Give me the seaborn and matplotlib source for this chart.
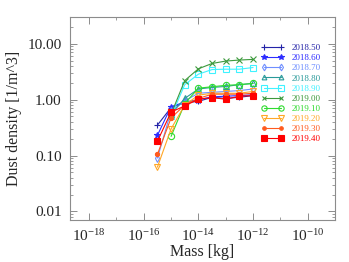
import matplotlib
matplotlib.use("Agg")
from matplotlib import pyplot as plt
import matplotlib.ticker as mticker
import numpy as np
import pandas as pd
import seaborn as sns

# data
mass = [10**-15.5, 1e-15, 10**-14.5, 1e-14, 10**-13.5, 1e-13, 10**-12.5, 1e-12]
epochs = ['2018.50', '2018.60', '2018.70', '2018.80', '2018.90',
          '2019.00', '2019.10', '2019.20', '2019.30', '2019.40']
d_2018_50 = [0.35, 0.72, 0.88, 0.93, 1.10, 1.05, 1.10, 1.18]
d_2018_60 = [0.23, 0.75, 0.90, 1.00, 1.12, 1.15, 1.18, 1.22]
d_2018_70 = [0.09, 0.62, 0.95, 1.30, 1.35, 1.40, 1.45, 1.55]
d_2018_80 = [np.nan, 0.55, 1.05, 1.55, 1.65, 1.72, 1.85, 1.95]
d_2018_90 = [np.nan, 0.50, 1.85, 2.85, 3.45, 3.50, 3.50, 3.75]
d_2019_00 = [np.nan, 0.55, 2.19, 3.56, 4.43, 4.89, 5.10, 5.24]
d_2019_10 = [np.nan, 0.22, 0.85, 1.60, 1.70, 1.80, 1.85, 1.95]
d_2019_20 = [0.062, 0.30, 0.80, 1.20, 1.30, 1.30, 1.30, 1.40]
d_2019_30 = [0.105, 0.47, 0.80, 1.05, 1.25, 1.25, 1.25, 1.30]
d_2019_40 = [0.18, 0.60, 0.77, 1.02, 1.08, 1.02, 1.15, 1.18]
density = [d_2018_50, d_2018_60, d_2018_70, d_2018_80, d_2018_90,
           d_2019_00, d_2019_10, d_2019_20, d_2019_30, d_2019_40]
xticks = [1e-18, 1e-16, 1e-14, 1e-12, 1e-10]
xminor = [1e-19, 1e-17, 1e-15, 1e-13, 1e-11]

colors = ['#2424a8', '#2d2dff', '#6f8fff', '#2a9a9a', '#3ff2ff',
          '#3d9a3d', '#2fdc2f', '#ffa726', '#ff5a1e', '#ff0000']
markers = ['+', '*', 'd', '^', 's', 'x', 'o', 'v', 'o', 's']
filled = [True, True, False, False, False, True, False, False, True, True]
msizes = [5, 4.5, 4, 4, 4.5, 4, 4.5, 4.5, 3, 4.5]

sns.set_style("ticks")
plt.rcParams['font.family'] = ['Liberation Serif', 'DejaVu Serif']
plt.rcParams['mathtext.fontset'] = 'stix'

fig = plt.figure(figsize=(3.49, 2.62), dpi=100)
ax = fig.add_axes([0.2006, 0.160, 0.7594, 0.775])

for ep, vals, c, m, f, ms in zip(epochs, density, colors, markers, filled, msizes):
    df = pd.DataFrame({'mass': mass, 'density': vals}).dropna()
    sns.lineplot(data=df, x='mass', y='density', ax=ax, color=c, marker=m,
                 markersize=ms, linewidth=0.8, label=ep,
                 markerfacecolor=c if f else 'none', markeredgecolor=c,
                 markeredgewidth=0.8)

ax.set_xscale('log')
ax.set_yscale('log')
ax.set_xlim(2e-19, 1e-9)
ax.set_ylim(0.007, 30)

ax.xaxis.set_major_locator(mticker.FixedLocator(xticks))
ax.xaxis.set_major_formatter(mticker.LogFormatterSciNotation())
ax.xaxis.set_minor_locator(mticker.FixedLocator(xminor))
ax.xaxis.set_minor_formatter(mticker.NullFormatter())
ax.yaxis.set_major_locator(mticker.LogLocator(base=10, numticks=10))
ax.yaxis.set_major_formatter(mticker.FormatStrFormatter('%.2f'))

for s in ax.spines.values():
    s.set_color('#8c8c8c')
    s.set_linewidth(0.8)
ax.tick_params(which='both', direction='in', top=True, right=True,
               color='#8c8c8c', labelsize=11, pad=6)
ax.tick_params(which='major', length=5, width=0.7)
ax.tick_params(which='minor', length=2.5, width=0.6)

ax.set_xlabel('Mass [kg]', fontsize=11.5, labelpad=0)
ax.set_ylabel('Dust density [1/m^3]', fontsize=11.5, labelpad=4)

leg = ax.legend(frameon=False, loc='upper right', bbox_to_anchor=(0.965, 0.89),
                fontsize=6.5, numpoints=2, handlelength=2.5, handletextpad=0.9,
                labelspacing=0.2, labelcolor='linecolor', borderpad=0,
                markerscale=0.85)

fig.savefig('out.png', dpi=100)
